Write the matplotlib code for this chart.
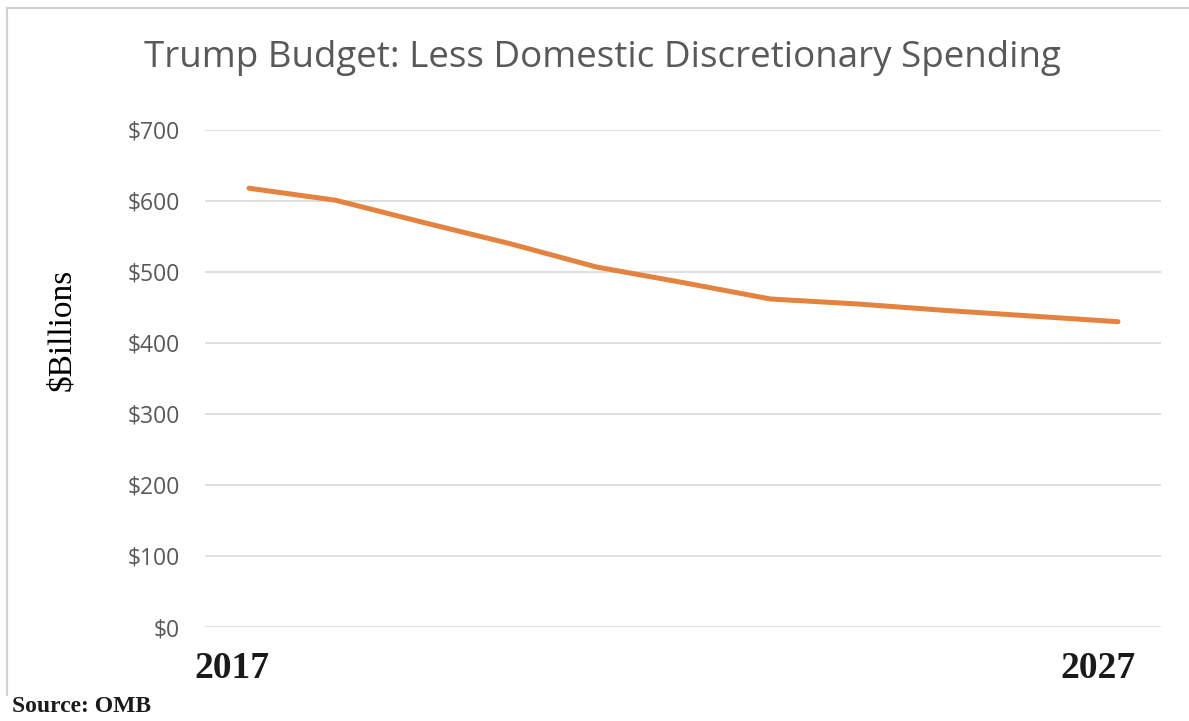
import matplotlib
matplotlib.use("Agg")
import matplotlib.pyplot as plt
from matplotlib.ticker import FuncFormatter, MultipleLocator
from matplotlib.lines import Line2D

# Domestic discretionary spending, $ billions
years = [2017, 2018, 2019, 2020, 2021, 2022, 2023, 2024, 2025, 2026, 2027]
spending = [618, 601, 570, 540, 507, 485, 462, 455, 446, 438, 430]

title = "Trump Budget: Less Domestic Discretionary Spending"
y_label = "$Billions"
source = "Source: OMB"
end_labels = ["2017", "2027"]

W, H = 1189, 721
fig = plt.figure(figsize=(W / 100, H / 100), dpi=100)
fig.patch.set_facecolor("white")

# plot area in pixel terms
left, right, top, bottom = 205, 1161, 130, 627
ax = fig.add_axes([left / W, 1 - bottom / H, (right - left) / W, (bottom - top) / H])

ax.set_ylim(0, 700)
px_per_year = (1118 - 249) / 10
ax.set_xlim(2017 - (249 - left) / px_per_year, 2027 + (right - 1118) / px_per_year)

ax.plot(years, spending, color="#e3833f", lw=3.6, solid_capstyle="round",
        solid_joinstyle="round", clip_on=False, zorder=3)

ax.yaxis.set_major_locator(MultipleLocator(100))
ax.yaxis.set_major_formatter(FuncFormatter(lambda v, p: f"${int(v)}"))
ax.grid(axis="y", color="#d9d9d9", lw=1.2)
ax.set_axisbelow(True)
ax.set_xticks([])
for s in ax.spines.values():
    s.set_visible(False)
ax.tick_params(axis="y", length=0, pad=18, labelsize=16.5, labelcolor="#595959")
for t in ax.get_yticklabels():
    t.set_fontfamily("Open Sans")

fig.text(602 / W, 1 - 58 / H, title, ha="center", va="center",
         fontsize=26.5, color="#595959", family="Open Sans")
fig.text(62 / W, 1 - 330 / H, y_label, ha="center", va="center", rotation=90,
         fontsize=24, color="black", family="Liberation Serif")
fig.text(232 / W, 1 - 668 / H, end_labels[0], ha="center", va="center",
         fontsize=27, fontweight="bold", color="#1a1a1a", family="Liberation Serif")
fig.text(1098 / W, 1 - 668 / H, end_labels[1], ha="center", va="center",
         fontsize=27, fontweight="bold", color="#1a1a1a", family="Liberation Serif")
fig.text(12 / W, 1 - 707 / H, source, ha="left", va="center",
         fontsize=17, fontweight="bold", color="#1a1a1a", family="Liberation Serif")

# thin frame edges along the top and left
fig.add_artist(Line2D([7 / W, 1], [1 - 8 / H, 1 - 8 / H], transform=fig.transFigure,
                      color="#d0d0d0", lw=1.5))
fig.add_artist(Line2D([7 / W, 7 / W], [1 - 8 / H, 1 - 695 / H], transform=fig.transFigure,
                      color="#d0d0d0", lw=1.5))

fig.savefig("out.png", dpi=100)
